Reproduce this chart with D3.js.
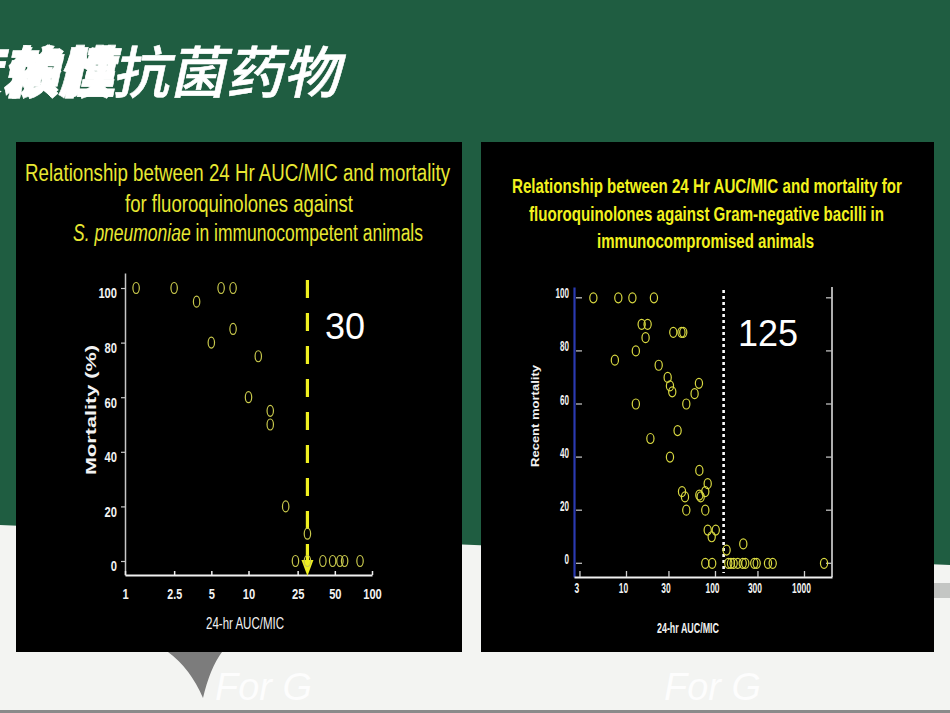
<!DOCTYPE html>
<html><head><meta charset="utf-8">
<script src="https://cdn.jsdelivr.net/npm/d3@7"></script>
<style>html,body{margin:0;padding:0;background:#f3f4f2;}svg{display:block;}</style>
</head><body>
<script>
// ---- data: left chart (S. pneumoniae, immunocompetent) ----
const leftAUC  = [1.23, 2.5, 3.8, 6, 7.5, 7.5, 5, 12, 10, 15, 15, 20, 30, 24, 30, 40, 48, 55, 60, 80];
const leftMort = [100, 100, 95, 100, 100, 85, 80, 75, 60, 55, 50, 20, 10, 0, 0, 0, 0, 0, 0, 0];
const leftXTicks = [1, 2.5, 5, 10, 25, 50, 100];
const leftYTicks = [0, 20, 40, 60, 80, 100];
const leftBreakpoint = 30;

// ---- data: right chart (Gram-negative bacilli, immunocompromised) ----
const rightAUC  = [4.3, 8.2, 11.8, 20.6, 15, 17.5, 16.6, 34, 42, 44, 12.9, 7.5, 23.3, 29.4, 31.2, 33.1, 66, 59, 12.9, 47.6, 38, 18.8,
                   31.2, 66.7, 82.8, 42.6, 77.8, 46, 66.7, 69, 47.6, 77.8, 82.8, 102, 91.8, 135, 208,
                   77.8, 93, 141, 151, 162, 180, 205, 219, 276, 294, 394, 445, 1680];
const rightMort = [100, 100, 100, 100, 90, 90, 85, 87, 87, 87, 80, 76.5, 74.6, 70, 66.8, 64.6, 67.8, 63.9, 60, 60, 50, 47,
                   40, 35, 30, 27, 27, 25, 25.7, 25, 20, 20, 12.5, 12.5, 10, 5, 7.3,
                   0, 0, 0, 0, 0, 0, 0, 0, 0, 0, 0, 0, 0];
const rightXTicks = [3, 10, 30, 100, 300, 1000];
const rightYTicks = [0, 20, 40, 60, 80, 100];
const rightBreakpoint = 125;

const leftTitle = ["Relationship between 24 Hr AUC/MIC and mortality", "for fluoroquinolones against", "in immunocompetent animals"];
const rightTitle = ["Relationship between 24 Hr AUC/MIC and mortality for", "fluoroquinolones against Gram-negative bacilli in", "immunocompromised animals"];

const W = 950, H = 713;
const svg = d3.select("body").append("svg").attr("width", W).attr("height", H);
const NARROW = "'Liberation Sans Narrow','Arial Narrow','Liberation Sans',Arial,sans-serif";
const SANS = "'Liberation Sans',Arial,sans-serif";

function fitNum(sel, perChar) {
  sel.each(function () {
    const t = this.textContent;
    const n = t.replace(".", "").length;
    d3.select(this).attr("textLength", n * perChar + (t.includes(".") ? 2.5 : 0)).attr("lengthAdjust", "spacingAndGlyphs");
  });
}

// ---- slide background ----
svg.append("rect").attr("width", W).attr("height", H).attr("fill", "#f3f4f2");
svg.append("path").attr("d", "M0,0H950V565L0,525Z").attr("fill", "#1f5d41");
svg.append("rect").attr("x", 934).attr("y", 583).attr("width", 16).attr("height", 15).attr("fill", "#c4c6c4");
svg.append("path").attr("d", "M168,652 L222,652 Q210,668 203,698 Q190,668 168,652Z").attr("fill", "#7c7c7c");
svg.append("rect").attr("x", 0).attr("y", 710).attr("width", W).attr("height", 3).attr("fill", "#8a8a8a");
[[215, 700], [664, 700]].forEach(p => {
  svg.append("text").attr("x", p[0]).attr("y", p[1]).text("For G")
    .attr("font-family", SANS).attr("font-size", 38).attr("font-style", "italic")
    .attr("fill", "#ffffff").attr("opacity", 0.85);
});

// Chinese heading
const head = svg.append("g");
function cjk(txt, x, len, w) {
  head.append("text").attr("x", x).attr("y", 93).text(txt)
    .attr("font-family", "'Noto Sans CJK SC',sans-serif").attr("font-size", 56).attr("font-weight", w)
    .attr("fill", "#ffffff").attr("stroke", "#ffffff").attr("stroke-width", 0.6)
    .attr("transform", "skewX(-12) translate(20,0)")
    .attr("textLength", len).attr("lengthAdjust", "spacingAndGlyphs");
}
cjk("度赖性", -55, 170, 900);
cjk("依膜", 2, 112, 900);
cjk("抗菌药物", 112, 228, 500);

// ---- panels ----
svg.append("rect").attr("x", 16).attr("y", 142).attr("width", 446).attr("height", 510).attr("fill", "#000");
svg.append("rect").attr("x", 481).attr("y", 142).attr("width", 453).attr("height", 510).attr("fill", "#000");

// ================= LEFT CHART =================
const L = svg.append("g");
const tl = [{y: 181, len: 425, cx: 237.5}, {y: 212, len: 228, cx: 239}, {y: 241, len: 350, cx: 248}];
tl.forEach((t, i) => {
  const tx = L.append("text").attr("x", t.cx).attr("y", t.y).attr("text-anchor", "middle")
    .attr("font-family", NARROW).attr("font-size", 23).attr("fill", "#e8e832")
    .attr("textLength", t.len).attr("lengthAdjust", "spacingAndGlyphs");
  if (i === 2) {
    tx.append("tspan").attr("font-style", "italic").text("S. pneumoniae");
    tx.append("tspan").text(" " + leftTitle[2]);
  } else tx.text(leftTitle[i]);
});

const xL = d3.scaleLog().domain([1, 100]).range([125, 372]);
const yL = d3.scaleLinear().domain([-5.13, 105.5]).range([575, 273]);

const yAxL = L.append("g").attr("transform", "translate(125,0)")
  .call(d3.axisLeft(yL).tickValues(leftYTicks).tickSize(4).tickSizeOuter(0).tickPadding(4).tickFormat(d3.format("d")));
yAxL.select(".domain").attr("stroke", "#c8c8c8").attr("stroke-width", 1.5);
yAxL.selectAll(".tick line").attr("stroke", "#c8c8c8").attr("stroke-width", 1.2);
yAxL.selectAll(".tick text").attr("fill", "#f2f2f2").attr("font-family", NARROW).attr("font-weight", 700)
  .attr("font-size", 15).attr("dy", "0.32em").attr("y", 5).call(fitNum, 6.2);

const xAxL = L.append("g").attr("transform", "translate(0,575)")
  .call(d3.axisBottom(xL).tickValues(leftXTicks).tickSize(-4).tickSizeOuter(0).tickPadding(13).tickFormat(d => String(d)));
xAxL.select(".domain").attr("stroke", "#f0f0f0").attr("stroke-width", 2.2);
xAxL.selectAll(".tick line").attr("stroke", "#f0f0f0").attr("stroke-width", 1.5);
xAxL.selectAll(".tick text").attr("fill", "#f2f2f2").attr("font-family", NARROW).attr("font-weight", 700)
  .attr("font-size", 15).call(fitNum, 6.2);

L.append("text").attr("x", 245).attr("y", 629).attr("text-anchor", "middle").text("24-hr AUC/MIC")
  .attr("font-family", NARROW).attr("font-size", 16).attr("fill", "#f2f2f2")
  .attr("textLength", 78).attr("lengthAdjust", "spacingAndGlyphs");
L.append("text").attr("transform", "translate(96,410) rotate(-90)").attr("text-anchor", "middle").text("Mortality (%)")
  .attr("font-family", SANS).attr("font-weight", 700).attr("font-size", 15).attr("fill", "#f2f2f2")
  .attr("textLength", 130).attr("lengthAdjust", "spacingAndGlyphs");

// breakpoint dashed arrow
const bx = xL(leftBreakpoint);
L.append("line").attr("x1", bx).attr("x2", bx).attr("y1", 280).attr("y2", 562)
  .attr("stroke", "#f0f020").attr("stroke-width", 3.2).attr("stroke-dasharray", "18,15");
L.append("path").attr("d", `M${bx - 6},560 L${bx + 6},560 L${bx},576 Z`).attr("fill", "#f0f020");
L.append("text").attr("x", 325).attr("y", 339).text("30").attr("font-family", SANS)
  .attr("font-size", 36).attr("fill", "#ffffff");

L.append("g").selectAll("ellipse").data(leftAUC.map((d, i) => [d, leftMort[i]])).join("ellipse")
  .attr("cx", d => xL(d[0])).attr("cy", d => yL(d[1])).attr("rx", 3.2).attr("ry", 5.5)
  .attr("fill", "none").attr("stroke", "#c9c94c").attr("stroke-width", 1.2);

// ================= RIGHT CHART =================
const R = svg.append("g");
const tr = [{y: 193, len: 390, cx: 707}, {y: 221, len: 355, cx: 706.5}, {y: 248, len: 217, cx: 705.5}];
tr.forEach((t, i) => {
  R.append("text").attr("x", t.cx).attr("y", t.y).attr("text-anchor", "middle").text(rightTitle[i])
    .attr("font-family", NARROW).attr("font-weight", 700).attr("font-size", 20).attr("fill", "#f2f21e")
    .attr("textLength", t.len).attr("lengthAdjust", "spacingAndGlyphs");
});

const xR = d3.scaleLog().domain([2.605, 2064]).range([574, 832]);
const yR = d3.scaleLinear().domain([-5.16, 104.07]).range([577, 287]);

R.append("line").attr("x1", 832).attr("x2", 832).attr("y1", 287).attr("y2", 577).attr("stroke", "#e8e8e8").attr("stroke-width", 1.5);

const yAxR = R.append("g").attr("transform", "translate(574,0)")
  .call(d3.axisLeft(yR).tickValues(rightYTicks).tickSize(0).tickSizeOuter(0).tickPadding(5).tickFormat(d3.format("d")));
yAxR.select(".domain").attr("stroke", "#2a3ab0").attr("stroke-width", 2.2);
yAxR.selectAll(".tick text").attr("fill", "#f2f2f2").attr("font-family", NARROW).attr("font-weight", 700)
  .attr("font-size", 14).attr("dy", "0").attr("y", 0).call(fitNum, 4.5);
const yTickR = R.append("g");
yTickR.selectAll("line.l").data(rightYTicks).join("line").attr("class", "l")
  .attr("x1", 576).attr("x2", 582).attr("y1", d => yR(d)).attr("y2", d => yR(d)).attr("stroke", "#bdbdbd").attr("stroke-width", 1.3);
yTickR.selectAll("line.r").data(rightYTicks).join("line").attr("class", "r")
  .attr("x1", 826).attr("x2", 832).attr("y1", d => yR(d)).attr("y2", d => yR(d)).attr("stroke", "#bdbdbd").attr("stroke-width", 1.3);

const xAxR = R.append("g").attr("transform", "translate(0,577)")
  .call(d3.axisBottom(xR).tickValues(rightXTicks).tickSize(-6).tickSizeOuter(0).tickPadding(6).tickFormat(d => String(d)));
xAxR.select(".domain").attr("stroke", "#f0f0f0").attr("stroke-width", 2);
xAxR.selectAll(".tick line").attr("stroke", "#d0d0d0").attr("stroke-width", 1.3);
xAxR.selectAll(".tick text").attr("fill", "#f2f2f2").attr("font-family", NARROW).attr("font-weight", 700)
  .attr("font-size", 14).attr("x", -3).call(fitNum, 4.7);

R.append("text").attr("x", 688).attr("y", 633).attr("text-anchor", "middle").text("24-hr AUC/MIC")
  .attr("font-family", NARROW).attr("font-weight", 700).attr("font-size", 14).attr("fill", "#f2f2f2")
  .attr("textLength", 62).attr("lengthAdjust", "spacingAndGlyphs");
R.append("text").attr("transform", "translate(539,416) rotate(-90)").attr("text-anchor", "middle").text("Recent mortality")
  .attr("font-family", SANS).attr("font-weight", 700).attr("font-size", 10).attr("fill", "#f2f2f2")
  .attr("textLength", 102).attr("lengthAdjust", "spacingAndGlyphs");

const rx = xR(rightBreakpoint);
R.append("line").attr("x1", rx).attr("x2", rx).attr("y1", 290).attr("y2", 573)
  .attr("stroke", "#ffffff").attr("stroke-width", 2.6).attr("stroke-dasharray", "3,3");
R.append("text").attr("x", 738).attr("y", 346).text("125").attr("font-family", SANS)
  .attr("font-size", 36).attr("fill", "#ffffff");

R.append("g").selectAll("ellipse").data(rightAUC.map((d, i) => [d, rightMort[i]])).join("ellipse")
  .attr("cx", d => xR(d[0])).attr("cy", d => yR(d[1])).attr("rx", 3.6).attr("ry", 5)
  .attr("fill", "none").attr("stroke", "#d8d840").attr("stroke-width", 1.2);
</script>
</body></html>
